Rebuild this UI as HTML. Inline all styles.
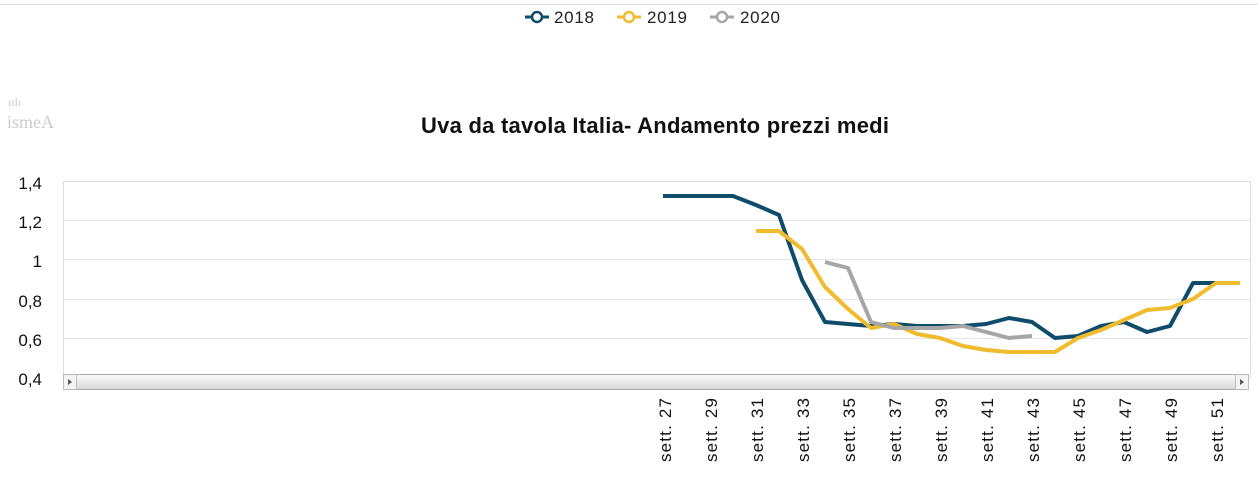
<!DOCTYPE html>
<html><head><meta charset="utf-8"><style>
body{margin:0;background:#fff;width:1258px;height:474px;overflow:hidden}
svg{font-family:"Liberation Sans",Arial,sans-serif}
</style></head><body>
<svg width="1258" height="474" viewBox="0 0 1258 474">
<line x1="0" y1="4.5" x2="1258" y2="4.5" stroke="#ddd"/>
<g stroke-width="3" fill="#fff">
<line x1="525" y1="17" x2="549" y2="17" stroke="#0f4c6b"/><circle cx="537" cy="17" r="5" stroke="#0f4c6b" stroke-width="2.5"/>
<line x1="617" y1="17" x2="641" y2="17" stroke="#f0bb2d"/><circle cx="629" cy="17" r="5" stroke="#f0bb2d" stroke-width="2.5"/>
<line x1="710" y1="17" x2="734" y2="17" stroke="#a6a6a6"/><circle cx="722" cy="17" r="5" stroke="#a6a6a6" stroke-width="2.5"/>
</g>
<g font-size="17" fill="#222"><text x="554" y="23" textLength="40">2018</text><text x="647" y="23" textLength="40">2019</text><text x="740" y="23" textLength="40">2020</text></g>
<text x="8" y="106" font-size="12" fill="#ccc" font-family="Liberation Serif,serif">ıılı</text>
<text x="7" y="128" font-size="18" fill="#ccc" font-family="Liberation Serif,serif">ismeA</text>
<text x="421" y="133" font-size="22" font-weight="bold" fill="#111" textLength="468">Uva da tavola Italia- Andamento prezzi medi</text>
<rect x="63.5" y="181.5" width="1187" height="196" fill="#fff" stroke="#ddd"/>
<g stroke="#e6e6e6"><line x1="64" y1="220.5" x2="1250" y2="220.5"/><line x1="64" y1="259.5" x2="1250" y2="259.5"/><line x1="64" y1="299.5" x2="1250" y2="299.5"/><line x1="64" y1="338.5" x2="1250" y2="338.5"/></g>
<g font-size="17" fill="#111" text-anchor="end"><text x="42" y="189">1,4</text><text x="42" y="228">1,2</text><text x="42" y="267">1</text><text x="42" y="307">0,8</text><text x="42" y="346">0,6</text><text x="42" y="385">0,4</text></g>
<defs><linearGradient id="g" x1="0" y1="0" x2="0" y2="1"><stop offset="0" stop-color="#fafafa"/><stop offset="1" stop-color="#d8d8d8"/></linearGradient></defs>
<rect x="63.5" y="374.5" width="1185" height="15" fill="url(#g)" stroke="#aaa"/>
<rect x="63.5" y="374.5" width="13" height="15" fill="#f4f4f4" stroke="#bbb"/>
<rect x="1235.5" y="374.5" width="13" height="15" fill="#f4f4f4" stroke="#bbb"/>
<path d="M72 382 l-4 -3 v6z M1240 379 l4 3 -4 3z" fill="#555"/>
<g fill="none" stroke-width="4" stroke-linejoin="round">
<polyline stroke="#0f4c6b" points="663,196 686,196 709,196 733,196 756,205 779,215 802,280 825,322 848,324 871,326 894,324 917,326 940,326 963,326 986,324 1009,318 1032,322 1055,338 1078,336 1101,326 1124,322 1147,332 1170,326 1193,283 1216,283 1240,283"/>
<polyline stroke="#f0bb2d" points="756,231 779,231 802,249 825,287 848,309 871,328 894,324 917,334 940,338 963,346 986,350 1009,352 1032,352 1055,352 1078,338 1101,330 1124,320 1147,310 1170,308 1193,299 1216,283 1240,283"/>
<polyline stroke="#a6a6a6" points="825,262 848,268 871,322 894,328 917,328 940,328 963,326 986,332 1009,338 1032,336"/>
</g>
<g font-size="17" fill="#111">
<text transform="translate(671,462) rotate(-90)" textLength="64">sett. 27</text>
<text transform="translate(717,462) rotate(-90)" textLength="64">sett. 29</text>
<text transform="translate(763,462) rotate(-90)" textLength="64">sett. 31</text>
<text transform="translate(809,462) rotate(-90)" textLength="64">sett. 33</text>
<text transform="translate(855,462) rotate(-90)" textLength="64">sett. 35</text>
<text transform="translate(901,462) rotate(-90)" textLength="64">sett. 37</text>
<text transform="translate(947,462) rotate(-90)" textLength="64">sett. 39</text>
<text transform="translate(993,462) rotate(-90)" textLength="64">sett. 41</text>
<text transform="translate(1039,462) rotate(-90)" textLength="64">sett. 43</text>
<text transform="translate(1085,462) rotate(-90)" textLength="64">sett. 45</text>
<text transform="translate(1131,462) rotate(-90)" textLength="64">sett. 47</text>
<text transform="translate(1177,462) rotate(-90)" textLength="64">sett. 49</text>
<text transform="translate(1223,462) rotate(-90)" textLength="64">sett. 51</text>
</g>
</svg>
</body></html>
